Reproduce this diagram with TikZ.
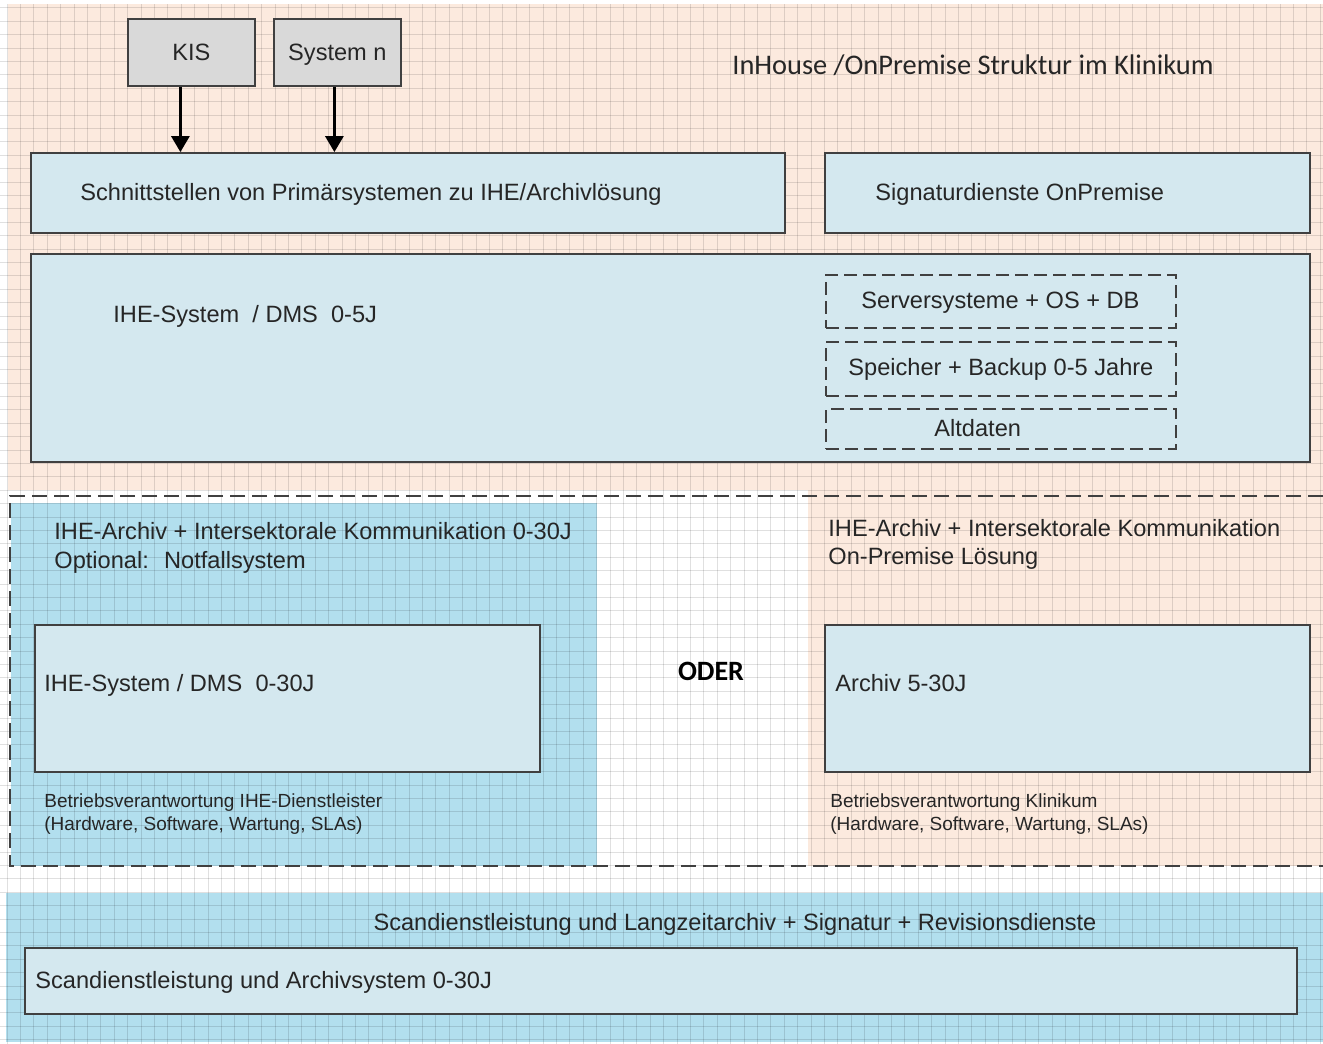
\documentclass[tikz,border=0pt]{standalone}
\usepackage{fontspec}
\setmainfont{Liberation Sans}
\newfontfamily\calibri{Carlito}
\usetikzlibrary{arrows.meta,fit}

\definecolor{peach}{RGB}{252,234,222}
\definecolor{skyblue}{RGB}{178,223,238}
\definecolor{boxblue}{RGB}{212,232,239}
\definecolor{sysgray}{RGB}{217,217,217}

\begin{document}
\begin{tikzpicture}[x=0.5pt,y=-0.5pt,
    box/.style={draw=black!75, line width=0.9pt, fill=boxblue, inner sep=0pt},
    sysbox/.style={draw=black!75, line width=0.9pt, fill=sysgray, anchor=north west,
      minimum width=63.5pt, minimum height=33.5pt, text height=8.45pt, text depth=0pt,
      text=black!85, font=\fontsize{11.8}{14}\selectfont},
    dashbox/.style={draw=black!75, line width=0.9pt, dash pattern=on 6.5pt off 3pt, inner sep=0pt},
    txt/.style={anchor=base west, inner sep=0pt, text=black!85, font=\fontsize{11.8}{14}\selectfont},
    small/.style={txt, font=\fontsize{9.5}{11}\selectfont},
    arr/.style={-{Triangle[width=9pt,length=8pt]}, line width=1.5pt},
    gridline/.style={black, opacity=0.12, line width=0.5pt}]
    % picture in pixel units, y grows downwards
    \useasboundingbox (0,0) rectangle (1323,1044);
    \clip (0,0) rectangle (1323,1044);
    \fill[white] (0,0) rectangle (1323,1044);
    % background areas
    \fill[peach] (8,4) rectangle (1323,490);
    \fill[peach] (808,490) rectangle (1323,866);
    \fill[skyblue] (11,503) rectangle (597,866);
    \fill[skyblue] (6,893) rectangle (1323,1042);
    % grid paper
    \foreach \i in {0,...,98}
      \draw[gridline] ({7+13.4*\i},4) -- ({7+13.4*\i},1044);
    \foreach \j in {0,...,77}
      \draw[gridline] (0,{7.8+13.4*\j}) -- (1323,{7.8+13.4*\j});

    % InHouse part
    \node[sysbox] (kis) at (127,18) {KIS};
    \node[sysbox] (sysn) at (273,18) {System n};
    \node[anchor=base west, inner sep=0pt, text=black!85, font=\calibri\fontsize{14.2}{17}\selectfont]
      (title) at (732,74) {InHouse /OnPremise Struktur im Klinikum};
    \node[box, fit={(31,153) (785,233)}] (schnitt) {};
    \node[box, fit={(825,153) (1310,233)}] (signatur) {};
    \node[txt] (schnitttxt) at (80,200.5) {Schnittstellen von Primärsystemen zu IHE/Archivlösung};
    \node[txt] (signaturtxt) at (875,200.5) {Signaturdienste OnPremise};
    \draw[arr] ([xshift=-5.5pt]kis.south) -- ([xshift=-5.5pt]kis.south |- schnitt.north);
    \draw[arr] ([xshift=-1.5pt]sysn.south) -- ([xshift=-1.5pt]sysn.south |- schnitt.north);

    \node[box, fit={(31,254) (1310,462)}] (ihe5) {};
    \node[txt] (ihe5txt) at (113,322.5) {IHE-System~ / DMS~ 0-5J};
    \node[dashbox, fit={(826,275) (1176,328)}] (server) {};
    \node[dashbox, fit={(826,342) (1176,396)}] (speicher) {};
    \node[dashbox, fit={(826,409) (1176,449)}] (altdaten) {};
    \node[txt] (servertxt) at (861,308.5) {Serversysteme + OS + DB};
    \node[txt] (speichertxt) at (848,375.5) {Speicher + Backup 0-5 Jahre};
    \node[txt] (altdatentxt) at (934,436.5) {Altdaten};

    % the two alternatives
    \draw[black!75, line width=0.9pt, dash pattern=on 7.5pt off 3.5pt]
      (1323,496) -- (10,496) -- (10,866) -- (1323,866);
    \node[txt] (cloudhead) at (54,539.5) {IHE-Archiv + Intersektorale Kommunikation 0-30J};
    \node[txt] (cloudopt) at (54,568.5) {Optional:~ Notfallsystem};
    \node[box, fit={(35,625) (540,772)}] (ihe30) {};
    \node[txt] (ihe30txt) at (44,691.5) {IHE-System / DMS~ 0-30J};
    \node[small] (cloudresp) at (44,807.5) {Betriebsverantwortung IHE-Dienstleister};
    \node[small] (cloudscope) at (44,830.5) {(Hardware, Software, Wartung, SLAs)};

    \node[anchor=base, inner sep=0pt, text=black, font=\calibri\bfseries\fontsize{14}{17}\selectfont]
      (oder) at (711,680) {ODER};

    \node[txt] (premhead) at (828,536.5) {IHE-Archiv + Intersektorale Kommunikation};
    \node[txt] (premsol) at (828,564.5) {On-Premise Lösung};
    \node[box, fit={(825,625) (1310,772)}] (archiv) {};
    \node[txt] (archivtxt) at (835,691.5) {Archiv 5-30J};
    \node[small] (premresp) at (830,807.5) {Betriebsverantwortung Klinikum};
    \node[small] (premscope) at (830,830.5) {(Hardware, Software, Wartung, SLAs)};

    % scan service
    \node[txt, anchor=base] (scanhead) at (735,930.5) {Scandienstleistung und Langzeitarchiv + Signatur + Revisionsdienste};
    \node[box, fit={(25,948) (1297,1014)}] (scan) {};
    \node[txt] (scantxt) at (35,988.5) {Scandienstleistung und Archivsystem 0-30J};
\end{tikzpicture}
\end{document}
